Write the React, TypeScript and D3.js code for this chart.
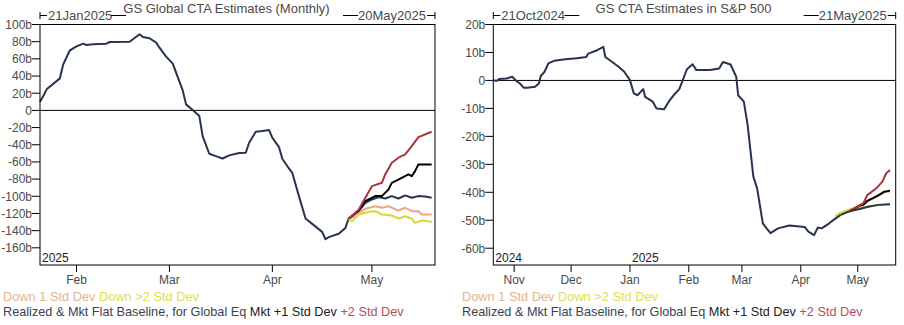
import React from "react";
import * as d3 from "d3";

type Pt = [string, number];

// ---------- Left panel: GS Global CTA Estimates (Monthly) ----------
const leftHistory: Pt[] = [
  ["2025-01-21", 10.1], ["2025-01-22", 16.7], ["2025-01-23", 24.5], ["2025-01-27", 37.3],
  ["2025-01-28", 53.6], ["2025-01-30", 70], ["2025-02-01", 74.6], ["2025-02-03", 77.7],
  ["2025-02-04", 76.1], ["2025-02-06", 77], ["2025-02-10", 77.7], ["2025-02-11", 79.6],
  ["2025-02-17", 80], ["2025-02-20", 88.6], ["2025-02-21", 85.5], ["2025-02-23", 84],
  ["2025-02-25", 78.9], ["2025-02-26", 73], ["2025-02-28", 62.6], ["2025-03-02", 54.4],
  ["2025-03-03", 43.9], ["2025-03-05", 23.3], ["2025-03-06", 7], ["2025-03-08", 0.4],
  ["2025-03-10", -6.6], ["2025-03-11", -30], ["2025-03-13", -50.5], ["2025-03-15", -53.2],
  ["2025-03-17", -56], ["2025-03-19", -52.4], ["2025-03-22", -49.7], ["2025-03-24", -49.3],
  ["2025-03-25", -37.7], ["2025-03-27", -24.9], ["2025-03-29", -24.1], ["2025-03-31", -22.9],
  ["2025-04-01", -31.8], ["2025-04-03", -42.7], ["2025-04-04", -56.3], ["2025-04-06", -67.6],
  ["2025-04-07", -72.7], ["2025-04-09", -99.8], ["2025-04-11", -125.9], ["2025-04-13", -132.1],
  ["2025-04-16", -141.4], ["2025-04-17", -150], ["2025-04-18", -147.6], ["2025-04-21", -143.7],
  ["2025-04-23", -136.8], ["2025-04-24", -125.9], ["2025-04-25", -124.3],
];
const leftBaseline: Pt[] = [
  ["2025-04-25", -124.3], ["2025-04-27", -117.3], ["2025-04-29", -107.6], ["2025-05-01", -103.7],
  ["2025-05-03", -101], ["2025-05-05", -102.6], ["2025-05-07", -99.8], ["2025-05-09", -102.6],
  ["2025-05-11", -99], ["2025-05-13", -101.7], ["2025-05-15", -99.8], ["2025-05-17", -100.2],
  ["2025-05-19", -101.7],
];
const leftPlus1: Pt[] = [
  ["2025-04-24", -125.9], ["2025-04-27", -116.9], ["2025-04-29", -105.7], ["2025-05-02", -99.8],
  ["2025-05-04", -99.8], ["2025-05-06", -92], ["2025-05-07", -84.3], ["2025-05-10", -78.5],
  ["2025-05-12", -74.6], ["2025-05-13", -76.5], ["2025-05-14", -70.7], ["2025-05-15", -62.9],
  ["2025-05-19", -62.9],
];
const leftPlus2: Pt[] = [
  ["2025-04-24", -125.9], ["2025-04-27", -115.6], ["2025-04-29", -101.7], ["2025-05-01", -88.2],
  ["2025-05-04", -84.3], ["2025-05-05", -74.6], ["2025-05-07", -61], ["2025-05-09", -55.1],
  ["2025-05-11", -51.3], ["2025-05-13", -41.6], ["2025-05-15", -31.1], ["2025-05-19", -24.9],
];
const leftDown1: Pt[] = [
  ["2025-04-24", -125.9], ["2025-04-27", -119.3], ["2025-04-29", -114.6], ["2025-05-02", -111.5],
  ["2025-05-04", -113.4], ["2025-05-06", -111.5], ["2025-05-09", -116.6], ["2025-05-11", -113.4],
  ["2025-05-13", -117.3], ["2025-05-15", -117.3], ["2025-05-16", -121.2], ["2025-05-19", -121.2],
];
const leftDown2: Pt[] = [
  ["2025-04-24", -127], ["2025-04-25", -129], ["2025-04-27", -121.2], ["2025-04-30", -118.1],
  ["2025-05-02", -117.3], ["2025-05-04", -121.2], ["2025-05-07", -122.4], ["2025-05-09", -125.9],
  ["2025-05-11", -123.2], ["2025-05-13", -125.9], ["2025-05-14", -130.9], ["2025-05-16", -128.2],
  ["2025-05-19", -129.7],
];
const leftYTicks = [100, 80, 60, 40, 20, 0, -20, -40, -60, -80, -100, -120, -140, -160];
const leftMonths = ["2025-02-01", "2025-03-01", "2025-04-01", "2025-05-01"];
const leftMonthLabels = ["Feb", "Mar", "Apr", "May"];

// ---------- Right panel: GS CTA Estimates in S&P 500 ----------
const rightHistory: Pt[] = [
  ["2024-10-21", 0], ["2024-10-23", -0.1], ["2024-10-24", 0.5], ["2024-10-28", 0.7],
  ["2024-10-31", 1.3], ["2024-11-02", -0.1], ["2024-11-04", -1.1], ["2024-11-06", -2.6],
  ["2024-11-08", -2.6], ["2024-11-12", -2.3], ["2024-11-14", -1.1], ["2024-11-15", 1.6],
  ["2024-11-17", 3.1], ["2024-11-19", 6.1], ["2024-11-22", 7], ["2024-11-28", 7.6],
  ["2024-12-04", 7.9], ["2024-12-09", 8.4], ["2024-12-10", 9.6], ["2024-12-14", 10.6],
  ["2024-12-18", 12], ["2024-12-19", 8.4], ["2024-12-23", 6.4], ["2024-12-26", 4.9],
  ["2024-12-29", 3.1], ["2025-01-01", 0.1], ["2025-01-03", -4.6], ["2025-01-05", -5.3],
  ["2025-01-07", -3.8], ["2025-01-08", -3.1], ["2025-01-09", -5.9], ["2025-01-13", -7.6],
  ["2025-01-15", -10], ["2025-01-19", -10.3], ["2025-01-22", -7], ["2025-01-24", -5.3],
  ["2025-01-27", -3.1], ["2025-01-31", 4], ["2025-02-03", 5.8], ["2025-02-05", 3.7],
  ["2025-02-12", 3.7], ["2025-02-17", 4.3], ["2025-02-19", 6.6], ["2025-02-23", 5.7],
  ["2025-02-26", 1.3], ["2025-02-27", -5.3], ["2025-03-02", -7.6], ["2025-03-04", -16],
  ["2025-03-07", -34.4], ["2025-03-09", -38.6], ["2025-03-12", -51.1], ["2025-03-14", -52.9],
  ["2025-03-16", -54.6], ["2025-03-20", -52.9], ["2025-03-26", -51.9], ["2025-04-03", -52.4],
  ["2025-04-05", -54.1], ["2025-04-08", -55.3], ["2025-04-10", -52.6], ["2025-04-12", -52.9],
  ["2025-04-16", -51.1], ["2025-04-19", -49.5], ["2025-04-22", -48.1],
];
const rightBaseline: Pt[] = [
  ["2025-04-22", -48.1], ["2025-04-27", -46.7], ["2025-05-02", -46], ["2025-05-07", -45.1],
  ["2025-05-12", -44.5], ["2025-05-18", -44.3],
];
const rightPlus1: Pt[] = [
  ["2025-04-27", -46.7], ["2025-05-02", -44.8], ["2025-05-04", -44.5], ["2025-05-06", -43.1],
  ["2025-05-09", -42.1], ["2025-05-12", -41], ["2025-05-15", -39.8], ["2025-05-18", -39.4],
];
const rightPlus2: Pt[] = [
  ["2025-04-27", -46.5], ["2025-05-01", -45.1], ["2025-05-04", -43.9], ["2025-05-06", -41],
  ["2025-05-09", -39.5], ["2025-05-11", -38.4], ["2025-05-14", -36.2], ["2025-05-16", -33.2],
  ["2025-05-18", -32],
];
const rightDown1: Pt[] = [
  ["2025-04-27", -46.5], ["2025-05-02", -44.5], ["2025-05-04", -44.2], ["2025-05-06", -43.3],
  ["2025-05-09", -42.3], ["2025-05-12", -41.2], ["2025-05-15", -40], ["2025-05-18", -39.6],
];
const rightDown2: Pt[] = [
  ["2025-04-19", -48.5], ["2025-04-22", -47.3], ["2025-04-27", -46], ["2025-05-02", -45.6],
  ["2025-05-07", -45.1], ["2025-05-12", -44.5], ["2025-05-18", -44.3],
];
const rightYTicks = [20, 10, 0, -10, -20, -30, -40, -50, -60];
const rightMonths = ["2024-11-01", "2024-12-01", "2025-01-01", "2025-02-01", "2025-03-01", "2025-04-01", "2025-05-01"];
const rightMonthLabels = ["Nov", "Dec", "Jan", "Feb", "Mar", "Apr", "May"];

const COLORS = {
  navy: "#27344f",
  black: "#000000",
  red: "#a8343e",
  salmon: "#e9a882",
  yellow: "#d9d83c",
  axisText: "#4a4a4a",
  legendNavy: "#3b4252",
  legendRed: "#b3505e",
  legendSalmon: "#e3b493",
  legendYellow: "#dede55",
};

const FONT = "'Liberation Sans', Arial, sans-serif";
const parse = d3.timeParse("%Y-%m-%d");

interface PanelProps {
  x0: number;
  x1: number;
  title: string;
  startDate: string;
  endDate: string;
  startLabel: string;
  endLabel: string;
  yDomain: [number, number];
  yTicks: number[];
  months: string[];
  monthLabels: string[];
  yearLabels: { date: string; text: string }[];
  series: { data: Pt[]; color: string }[];
  legendX: number;
}

function Panel(p: PanelProps) {
  const y0 = 24.5;
  const y1 = 265;
  const x = d3.scaleTime().domain([parse(p.startDate)!, parse(p.endDate)!]).range([p.x0, p.x1]);
  const y = d3.scaleLinear().domain(p.yDomain).range([y1, y0]);
  const line = d3
    .line<Pt>()
    .x((d) => x(parse(d[0])!))
    .y((d) => y(d[1]));
  const fmt = (v: number) => (v === 0 ? "0" : `${v}b`);
  const midTitle = (p.x0 + p.x1) / 2 - 11;
  return (
    <g fontFamily={FONT}>
      {/* header */}
      <text x={midTitle} y={13.3} fontSize={13} fill={COLORS.axisText} textAnchor="middle">
        {p.title}
      </text>
      <line x1={p.x0} x2={p.x0} y1={12} y2={19} stroke="#000" />
      <line x1={p.x0} x2={p.x0 + 7} y1={15.5} y2={15.5} stroke="#000" />
      <text x={p.x0 + 8} y={20} fontSize={13} fill={COLORS.axisText}>
        {p.startLabel}
      </text>
      <line x1={p.x0 + 71} x2={p.x0 + 86} y1={15.5} y2={15.5} stroke="#000" />
      <line x1={p.x1 - 92} x2={p.x1 - 77} y1={15.5} y2={15.5} stroke="#000" />
      <text x={p.x1 - 9} y={20} fontSize={13} fill={COLORS.axisText} textAnchor="end">
        {p.endLabel}
      </text>
      <line x1={p.x1 - 8} x2={p.x1} y1={15.5} y2={15.5} stroke="#000" />
      <line x1={p.x1} x2={p.x1} y1={12} y2={19} stroke="#000" />

      {/* y axis */}
      {p.yTicks.map((t) => (
        <g key={t}>
          <line x1={p.x0 - 8} x2={p.x0} y1={y(t)} y2={y(t)} stroke="#000" />
          <text x={p.x0 - 8} y={y(t) + 4.3} fontSize={12} fill={COLORS.axisText} textAnchor="end">
            {fmt(t)}
          </text>
        </g>
      ))}
      {/* x axis */}
      {p.months.map((m, i) => (
        <g key={m}>
          <line x1={x(parse(m)!)} x2={x(parse(m)!)} y1={y1} y2={y1 + 7} stroke="#000" />
          <text x={x(parse(m)!)} y={284} fontSize={12} fill={COLORS.axisText} textAnchor="middle">
            {p.monthLabels[i]}
          </text>
        </g>
      ))}
      {p.yearLabels.map((yl) => (
        <text key={yl.text} x={Math.max(p.x0, x(parse(yl.date)!)) + 2} y={261.5} fontSize={12} fill="#222">
          {yl.text}
        </text>
      ))}

      {/* zero line */}
      <line x1={p.x0} x2={p.x1} y1={y(0)} y2={y(0)} stroke="#000" strokeWidth={1} />

      {/* series */}
      {p.series.map((s, i) => (
        <path key={i} d={line(s.data) || ""} fill="none" stroke={s.color} strokeWidth={2} strokeLinejoin="round" />
      ))}

      {/* frame */}
      <rect x={p.x0} y={y0} width={p.x1 - p.x0} height={y1 - y0} fill="none" stroke="#000" strokeWidth={1} />

      {/* legend */}
      <text x={p.legendX} y={300.5} fontSize={12.8}>
        <tspan fill={COLORS.legendSalmon}>Down 1 Std Dev</tspan>
        <tspan fill={COLORS.legendYellow}> Down &gt;2 Std Dev</tspan>
      </text>
      <text x={p.legendX} y={315.5} fontSize={12.7}>
        <tspan fill={COLORS.legendNavy}>Realized &amp; Mkt Flat Baseline, for Global Eq</tspan>
        <tspan fill="#222"> Mkt +1 Std Dev</tspan>
        <tspan fill={COLORS.legendRed}> +2 Std Dev</tspan>
      </text>
    </g>
  );
}

export default function App() {
  return (
    <svg
      width={904}
      height={325}
      style={{ position: "absolute", left: 0, top: 0, display: "block", background: "#fff" }}
    >
      <rect width={904} height={325} fill="#fff" />
      <Panel
        x0={40}
        x1={435}
        title="GS Global CTA Estimates (Monthly)"
        startDate="2025-01-21"
        endDate="2025-05-20"
        startLabel="21Jan2025"
        endLabel="20May2025"
        yDomain={[-180, 100]}
        yTicks={leftYTicks}
        months={leftMonths}
        monthLabels={leftMonthLabels}
        yearLabels={[{ date: "2025-01-21", text: "2025" }]}
        series={[
          { data: leftHistory, color: COLORS.navy },
          { data: leftBaseline, color: COLORS.navy },
          { data: leftDown1, color: COLORS.salmon },
          { data: leftDown2, color: COLORS.yellow },
          { data: leftPlus1, color: COLORS.black },
          { data: leftPlus2, color: COLORS.red },
        ]}
        legendX={3}
      />
      <Panel
        x0={493.3}
        x1={895.7}
        title="GS CTA Estimates in S&P 500"
        startDate="2024-10-21"
        endDate="2025-05-21"
        startLabel="21Oct2024"
        endLabel="21May2025"
        yDomain={[-66, 20]}
        yTicks={rightYTicks}
        months={rightMonths}
        monthLabels={rightMonthLabels}
        yearLabels={[
          { date: "2024-10-21", text: "2024" },
          { date: "2025-01-01", text: "2025" },
        ]}
        series={[
          { data: rightDown2, color: COLORS.yellow },
          { data: rightDown1, color: COLORS.salmon },
          { data: rightHistory, color: COLORS.navy },
          { data: rightBaseline, color: COLORS.navy },
          { data: rightPlus1, color: COLORS.black },
          { data: rightPlus2, color: COLORS.red },
        ]}
        legendX={462}
      />
    </svg>
  );
}
